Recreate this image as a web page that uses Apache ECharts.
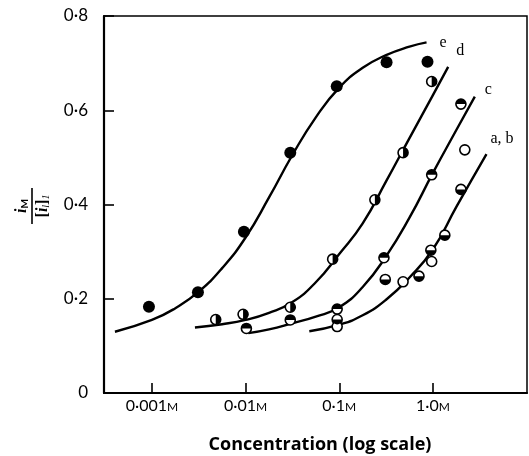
<!DOCTYPE html>
<html>
<head>
<meta charset="utf-8">
<script src="https://cdn.jsdelivr.net/npm/echarts@6/dist/echarts.min.js"></script>
<style>html,body{margin:0;padding:0;background:#fff;}#c{width:529px;height:456px;}</style>
</head>
<body>
<div id="c"></div>
<script>
// ---- data (concentration in M, i_M/[i_l]_1) ----
const xTickValues = [0.001, 0.01, 0.1, 1.0];
const xTickLabels = ['0·001', '0·01', '0·1', '1·0'];
const yTickLabels = ['0', '0·2', '0·4', '0·6', '0·8'];

// measured points
const ptsE = [[0.00093,0.183],[0.0031,0.214],[0.0096,0.342],[0.030,0.51],[0.094,0.651],[0.32,0.702],[0.875,0.703]];
const ptsD = [[0.0048,0.156],[0.0094,0.167],[0.030,0.182],[0.085,0.284],[0.24,0.41],[0.48,0.51],[0.97,0.661]];
const ptsC = [[0.0102,0.137],[0.030,0.155],[0.095,0.178],[0.30,0.287],[0.97,0.463],[1.99,0.613]];
const ptsA = [[0.095,0.156],[0.31,0.241],[0.71,0.248],[0.95,0.303],[1.34,0.335],[1.99,0.432]];
const ptsB = [[0.095,0.141],[0.48,0.236],[0.97,0.279],[2.19,0.516]];

// fitted curves
const curveE = [[0.000403,0.13],[0.001,0.155],[0.00178,0.18],[0.00316,0.215],[0.00562,0.265],[0.01,0.33],[0.0178,0.415],[0.0316,0.505],[0.0562,0.585],[0.1,0.648],[0.178,0.69],[0.316,0.717],[0.562,0.735],[0.855,0.744]];
const curveD = [[0.00288,0.139],[0.00562,0.146],[0.01,0.155],[0.0178,0.17],[0.0316,0.193],[0.0562,0.235],[0.1,0.295],[0.178,0.36],[0.316,0.449],[0.562,0.541],[1.0,0.632],[1.455,0.692]];
const curveC = [[0.0107,0.127],[0.0178,0.135],[0.0316,0.148],[0.0562,0.162],[0.1,0.182],[0.178,0.225],[0.316,0.29],[0.562,0.372],[1.0,0.467],[1.778,0.558],[2.8,0.629]];
const curveAB = [[0.0479,0.131],[0.1,0.145],[0.178,0.165],[0.316,0.198],[0.562,0.245],[1.0,0.305],[1.778,0.395],[3.73,0.507]];

const curveNames = ['e', 'd', 'c', 'a, b'];

const HALF_RIGHT = 'path://M0,0 A10,10 0 0 1 0,20 Z';
const HALF_TOP = 'path://M0,10 A10,10 0 0 1 20,10 Z';
const HALF_BOTTOM = 'path://M0,0 A10,10 0 0 0 20,0 Z';

const chart = echarts.init(document.getElementById('c'), null, {renderer: 'canvas'});
const FONT = 'Lato';

function lineSeries(name, data, offset) {
  return {
    type: 'line', name: name, data: data, smooth: 0.5, symbol: 'none',
    lineStyle: {color: '#000', width: 2.4}, z: 2, silent: true,
    endLabel: {show: true, formatter: name, color: '#000', fontFamily: 'Liberation Serif', fontSize: 16, offset: offset}
  };
}
function ring(data) {
  return {type: 'scatter', data: data, symbol: 'circle', symbolSize: 10,
    itemStyle: {color: '#fff', borderColor: '#000', borderWidth: 1.6, opacity: 1}, z: 3, silent: true};
}
function half(data, path, size, off) {
  return {type: 'scatter', data: data, symbol: path, symbolSize: size, symbolOffset: off,
    itemStyle: {color: '#000', borderWidth: 0, opacity: 1}, z: 4, silent: true};
}

const option = {
  animation: false,
  backgroundColor: '#fff',
  grid: {left: 104, right: 2, top: 16, bottom: 63, show: true, borderColor: '#000', borderWidth: 1.5, backgroundColor: 'transparent'},
  xAxis: {
    type: 'log', logBase: 10, min: 0.000308, max: 10.1,
    axisLine: {show: true, lineStyle: {color: '#000', width: 2}},
    axisTick: {show: true, inside: true, length: 10, lineStyle: {color: '#000', width: 1.6}, customValues: xTickValues},
    axisLabel: {
      customValues: xTickValues, margin: 5,
      formatter: function (v) {
        const i = xTickValues.findIndex(t => Math.abs(Math.log10(t) - Math.log10(v)) < 0.01);
        return i < 0 ? '' : '{n|' + xTickLabels[i] + '}{m|M}';
      },
      rich: {n: {fontFamily: FONT, fontSize: 16, color: '#000'}, m: {fontFamily: FONT, fontSize: 12, color: '#000', padding: [3, 0, 0, 0]}}
    },
    splitLine: {show: false}
  },
  yAxis: {
    type: 'value', min: 0, max: 0.8, interval: 0.2,
    axisLine: {show: true, lineStyle: {color: '#000', width: 2.2}},
    axisTick: {show: true, inside: true, length: 10, lineStyle: {color: '#000', width: 1.6}},
    axisLabel: {
      margin: 16, color: '#000', fontFamily: FONT, fontSize: 17,
      formatter: function (v) { return yTickLabels[Math.round(v / 0.2)]; }
    },
    splitLine: {show: false}
  },
  series: [
    lineSeries(curveNames[0], curveE, [5, 0]),
    lineSeries(curveNames[1], curveD, [0, -16]),
    lineSeries(curveNames[2], curveC, [2, -7]),
    lineSeries(curveNames[3], curveAB, [-4, -15]),
    {type: 'scatter', data: ptsE, symbol: 'circle', symbolSize: 12, itemStyle: {color: '#000', opacity: 1}, z: 3, silent: true},
    ring(ptsD), half(ptsD, HALF_RIGHT, [5, 10], [2.5, 0]),
    ring(ptsC), half(ptsC, HALF_TOP, [10, 5], [0, -2.5]),
    ring(ptsA), half(ptsA, HALF_BOTTOM, [10, 5], [0, 2.5]),
    ring(ptsB)
  ],
  graphic: [
    {type: 'text', x: 320, y: 445, style: {text: 'Concentration (log scale)', align: 'center', verticalAlign: 'middle', fontFamily: 'Open Sans', fontWeight: 'bold', fontSize: 18, fill: '#000'}},
    {type: 'group', x: 32, y: 206, rotation: Math.PI / 2, children: [
      {type: 'line', shape: {x1: -18, y1: 0, x2: 18, y2: 0}, style: {stroke: '#000', lineWidth: 1.6}},
      {type: 'text', x: 0, y: -10, style: {text: '{i|i}{s|M}', align: 'center', verticalAlign: 'middle',
        rich: {i: {fontFamily: 'Liberation Serif', fontStyle: 'italic', fontWeight: 'bold', fontSize: 16, fill: '#000'}, s: {fontFamily: FONT, fontWeight: 'bold', fontSize: 10, fill: '#000', padding: [6, 0, 0, 0]}}}},
      {type: 'text', x: 0, y: 11, style: {text: '{b|[}{i|i}{s|l}{b|]}{s|1}', align: 'center', verticalAlign: 'middle',
        rich: {b: {fontFamily: 'Liberation Serif', fontWeight: 'bold', fontSize: 16, fill: '#000'}, i: {fontFamily: 'Liberation Serif', fontStyle: 'italic', fontWeight: 'bold', fontSize: 16, fill: '#000'}, s: {fontFamily: 'Liberation Serif', fontStyle: 'italic', fontSize: 10, fill: '#000', padding: [6, 0, 0, 0]}}}}
    ]}
  ]
};
chart.setOption(option);
</script>
</body>
</html>
